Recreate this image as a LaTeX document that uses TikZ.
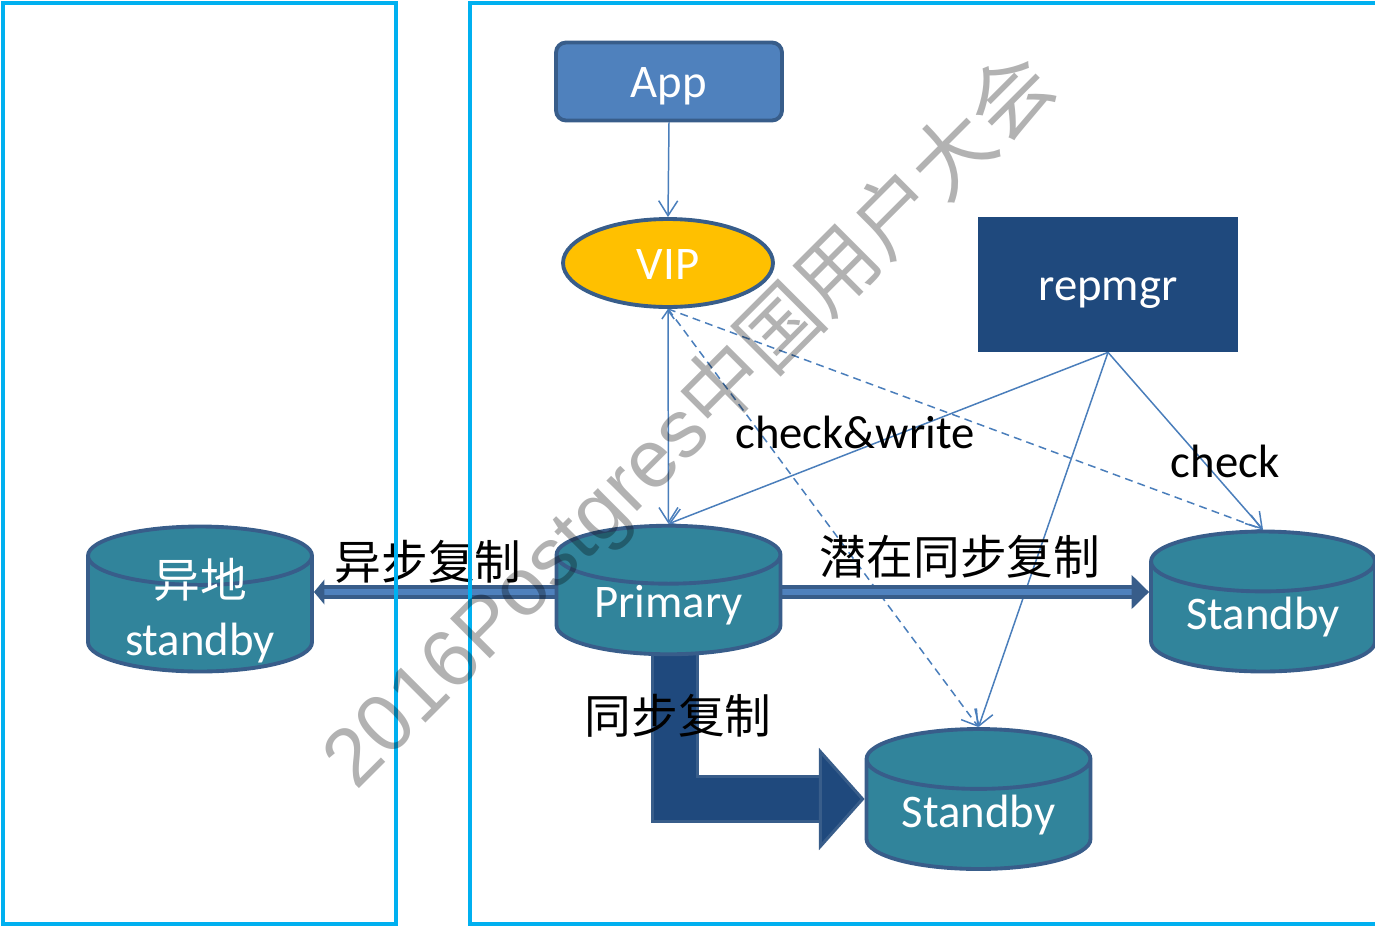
\documentclass[tikz,border=0pt]{standalone}
\usepackage{fontspec}
\setmainfont{Carlito}
\newfontfamily\cjk{Noto Sans CJK SC}
\newfontfamily\wmfont{Liberation Sans}
\usetikzlibrary{arrows.meta,shapes.geometric}
\pgfdeclarelayer{nodelayer}
\pgfdeclarelayer{edgelayer}
\pgfsetlayers{edgelayer,nodelayer,main}
\definecolor{cyanline}{HTML}{00B0F0}
\definecolor{border}{HTML}{385D8A}
\definecolor{appblue}{HTML}{4F81BD}
\definecolor{vipgold}{HTML}{FFC000}
\definecolor{navy}{HTML}{1F497D}
\definecolor{dbteal}{HTML}{31849B}
\definecolor{linkblue}{HTML}{4A7EBB}
\newcommand\bigfont{\fontsize{26.6}{33}\selectfont}
\newcommand\twolines[2]{\raisebox{0pt}[17.6pt][4.4pt]{\begin{tabular}{@{}c@{}}#1\\#2\end{tabular}}}
\tikzstyle{zone}=[draw=cyanline, line width=2.3pt]
\tikzstyle{box text}=[text=white, font=\bigfont, text height=21.3pt, text depth=2.7pt]
\tikzstyle{app box}=[box text, draw=border, fill=appblue, line width=2.2pt, rounded corners=0.2cm, minimum width=4.52cm, minimum height=1.56cm]
\tikzstyle{vip oval}=[box text, shape=ellipse, draw=border, fill=vipgold, line width=2.2pt, minimum width=4.2cm, minimum height=1.76cm, inner sep=0pt]
\tikzstyle{manager}=[box text, fill=navy, minimum width=5.2cm, minimum height=2.7cm]
\tikzstyle{db}=[shape=cylinder, shape border rotate=90, aspect=0.39, anchor=shape center, draw=border, fill=dbteal, line width=2.2pt, text=white, font=\bigfont, minimum width=4.48cm, minimum height=2.8cm, inner sep=0pt]
\tikzstyle{tag}=[font=\bigfont]
\tikzstyle{cn tag}=[font=\cjk\bigfont]
\tikzstyle{directed edge}=[-{Straight Barb[length=8.5pt, width=10.8pt]}, draw=linkblue, line width=0.85pt]
\tikzstyle{probe edge}=[directed edge, dash pattern=on 4.5pt off 3pt]
\tikzstyle{async flow}=[draw=border, double=appblue, line width=2.3pt, double distance=3.4pt, -{Triangle[length=6pt, width=14pt]}]
\tikzstyle{sync flow}=[draw=border, double=navy, line width=1.7pt, double distance=23.8pt, line join=miter, -{Triangle[length=26pt, width=58pt, fill=navy, color=border, line width=1.7pt]}]
\tikzstyle{watermark}=[text=black, text opacity=0.3, font=\wmfont\fontsize{46.5}{50}\selectfont, rotate=45]
\begin{document}
\begin{tikzpicture}[x=0.02cm, y=-0.02cm]
	\useasboundingbox (0,0) rectangle (1375,927);
	\begin{pgfonlayer}{nodelayer}
		\node [style=app box] (app) at (669, 81.5) {App};
		\node [style=vip oval] (vip) at (668, 263) {VIP};
		\node [style=manager] (rep) at (1108, 284.5) {repmgr};
		\node [style=db, minimum height=2.52cm] (pri) at (668.5, 590) {Primary};
		\node [style=db, minimum height=2.9cm] (yd) at (200, 599) {\twolines{\cjk 异地}{standby}};
		\node [style=db] (sbr) at (1263, 601.5) {Standby};
		\node [style=db] (sbb) at (978.5, 799) {Standby};
		\node [style=tag] (cw) at (855, 432) {check\&write};
		\node [style=tag] (ck) at (1225, 461) {check};
		\node [style=cn tag] (async) at (428, 562) {异步复制};
		\node [style=cn tag] (maybe) at (960, 557) {潜在同步复制};
		\node [style=cn tag] (sync) at (678, 716) {同步复制};
	\end{pgfonlayer}
	\begin{pgfonlayer}{edgelayer}
		\draw [style=directed edge] (app.south) to (vip.north);
		\draw [style=directed edge, {Straight Barb[length=5pt, width=7pt]}-{Straight Barb[length=8.5pt, width=10.8pt]}] (vip.south) to (pri.north);
		\draw [style=probe edge] (vip.south) to (sbr.north);
		\draw [style=probe edge] (vip.south) to (sbb.north);
		\draw [style=directed edge] (rep.south) to (pri.north);
		\draw [style=directed edge] (rep.south) to (sbb.north);
		\draw [style=directed edge] (rep.south) to (sbr.north);
		\draw [style=async flow] ([yshift=-0.04cm]pri.shape center -| pri.west) to ([yshift=-0.04cm]pri.shape center -| yd.east);
		\draw [style=async flow, -{Triangle[length=10pt, width=19pt]}] ([yshift=-0.04cm]pri.shape center -| pri.east) to ([yshift=-0.04cm]pri.shape center -| sbr.west);
		\draw [style=sync flow] ([xshift=0.13cm]pri.shape center) |- (sbb.shape center -| sbb.west);
	\end{pgfonlayer}
	\draw [style=zone] (3, 3) rectangle (396, 924);
	\draw [style=zone] (470, 3) rectangle (1400, 924);
	\node [style=watermark] (wm) at (690, 422) {2016Postgres{\cjk 中国用户大会}};
\end{tikzpicture}
\end{document}
